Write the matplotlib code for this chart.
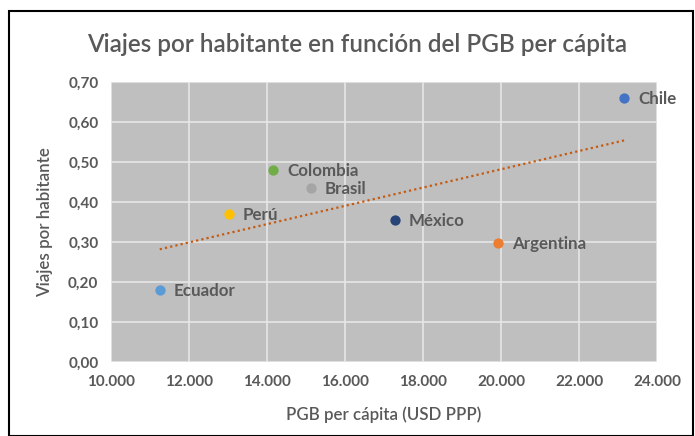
import matplotlib.pyplot as plt
import numpy as np
from matplotlib.patches import Rectangle

paises = ['Ecuador', 'Perú', 'Colombia', 'Brasil', 'México', 'Argentina', 'Chile']
pgb = [11250, 13030, 14160, 15130, 17280, 19930, 23160]
viajes = [0.18, 0.37, 0.48, 0.435, 0.355, 0.297, 0.66]
colores = ['#5B9BD5', '#FFC000', '#70AD47', '#A5A5A5', '#264478', '#ED7D31', '#4472C4']

plt.rcParams['font.family'] = ['Lato', 'DejaVu Sans']
gris = '#595959'

fig = plt.figure(figsize=(6.95, 4.36), dpi=100)
ax = fig.add_axes([111/695, 1 - 362/436, 546/695, 280/436])
ax.set_facecolor('#BFBFBF')

for x, y, c, p in zip(pgb, viajes, colores, paises):
    ax.scatter(x, y, s=55, color=c, zorder=3, linewidths=0)
    ax.annotate(p, (x, y), xytext=(10, -0.5), textcoords='offset points',
                va='center', ha='left', fontsize=12.2, fontweight='bold', color=gris,
                annotation_clip=False, zorder=4)

# linea de tendencia lineal
m, b = np.polyfit(pgb, viajes, 1)
xs = np.array([min(pgb), max(pgb)])
ax.plot(xs, m * xs + b, color='#C55A11', linestyle=(0, (1, 1.4)), linewidth=1.6, zorder=2)

ax.set_xlim(10000, 24000)
ax.set_ylim(0, 0.7)
ax.set_xticks(np.arange(10000, 24001, 2000))
ax.set_yticks(np.arange(0, 0.71, 0.1))
ax.set_xticklabels([f'{v:,}'.replace(',', '.') for v in range(10000, 24001, 2000)])
ax.set_yticklabels([f'{v:.2f}'.replace('.', ',') for v in np.arange(0, 0.71, 0.1)])
ax.grid(True, color='#E6E6E6', linewidth=1.2)
ax.set_axisbelow(True)
for s in ax.spines.values():
    s.set_visible(False)
ax.tick_params(length=0, labelsize=11, labelcolor=gris, pad=9)
for t in ax.get_xticklabels() + ax.get_yticklabels():
    t.set_fontweight('bold')

fig.text(384/695, 1 - 415/436, 'PGB per cápita (USD PPP)', ha='center', va='center',
         fontsize=12.2, color=gris, fontweight='semibold')
fig.text(45/695, 1 - 222/436, 'Viajes por habitante', ha='center', va='center', rotation=90,
         fontsize=12.2, color=gris, fontweight='semibold')
fig.text(357/695, 1 - 45/436, 'Viajes por habitante en función del PGB per cápita',
         ha='center', va='center', fontsize=17.5, color=gris, fontweight='semibold')

fig.patches.append(Rectangle((9/695, 0), 684/695, 1 - 11/436, transform=fig.transFigure,
                             fill=False, edgecolor='black', linewidth=1.5))

fig.savefig('out.png', dpi=100)
